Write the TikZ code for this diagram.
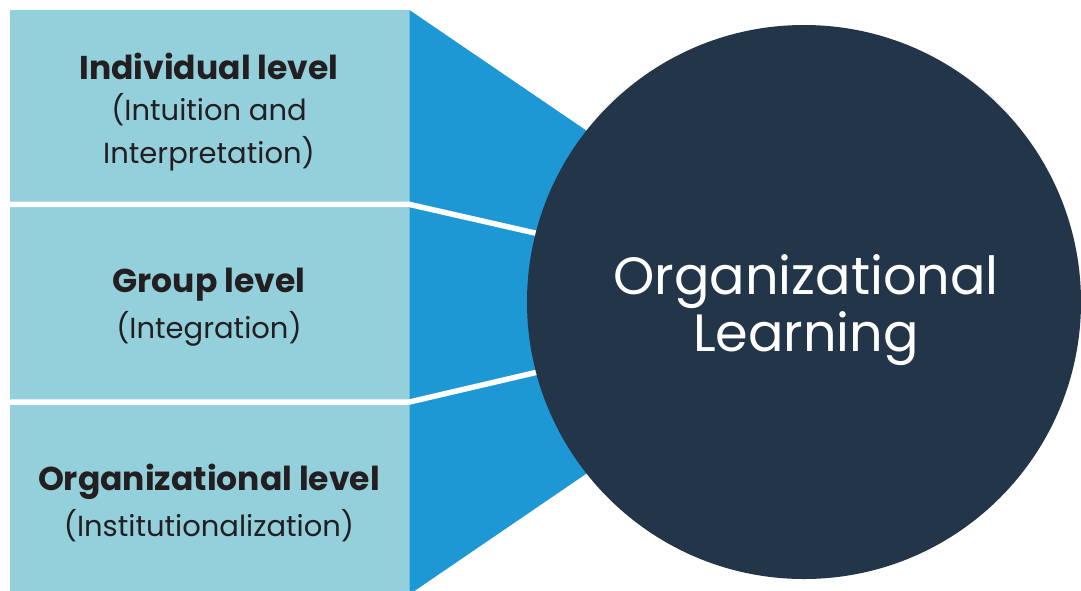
\documentclass[tikz,border=0pt]{standalone}
\usepackage{fontspec}
\setmainfont{Poppins}
\definecolor{boxcol}{HTML}{93D0DC}
\definecolor{funnel}{HTML}{1E98D4}
\definecolor{navy}{HTML}{233548}
\definecolor{ink}{HTML}{231F20}
\begin{document}
\begin{tikzpicture}[x=1pt,y=-1pt,
  levelbox/.style={fill=boxcol, draw=none, inner sep=0pt, minimum width=399pt, anchor=north west},
  divider/.style={draw=white, line width=5.5pt},
  title/.style={text=ink, font=\fontsize{33}{38}\selectfont\bfseries, inner sep=0pt},
  sub/.style={text=ink, font=\fontsize{29}{43}\selectfont, align=center, inner sep=0pt},
  big/.style={text=white, font=\fontsize{52.5}{57}\selectfont, align=center, inner sep=0pt}]
\clip (0,0) rectangle (1081,590);
\fill[white] (0,0) rectangle (1081,590);
% level boxes
\node[levelbox, minimum height=194pt] (b1) at (10,10) {};
\node[levelbox, minimum height=198pt] (b2) at (10,204) {};
\node[levelbox, minimum height=192pt] (b3) at (10,402) {};
\coordinate (apex) at (838,302);
% funnel
\fill[funnel] (b1.north east) -- (apex) -- (b3.south east) -- cycle;
% dividers
\draw[divider] (b1.south west) -- (b1.south east) -- (apex);
\draw[divider] (b3.north west) -- (b3.north east) -- (apex);
% circle
\node[circle, fill=navy, minimum size=554pt, inner sep=0pt] (c) at (804,302) {};
% texts
\node[title] (t1) at (209,66) {Individual level};
\node[sub] (s1) at (209,132) {(Intuition and\\Interpretation)};
\node[title] (t2) at (209,285) {Group level};
\node[sub] (s2) at (209,329) {(Integration)};
\node[title] (t3) at (209,482) {Organizational level};
\node[sub] (s3) at (209,526) {(Institutionalization)};
\node[big] (ol) at (806,310) {Organizational\\Learning};
\end{tikzpicture}
\end{document}
